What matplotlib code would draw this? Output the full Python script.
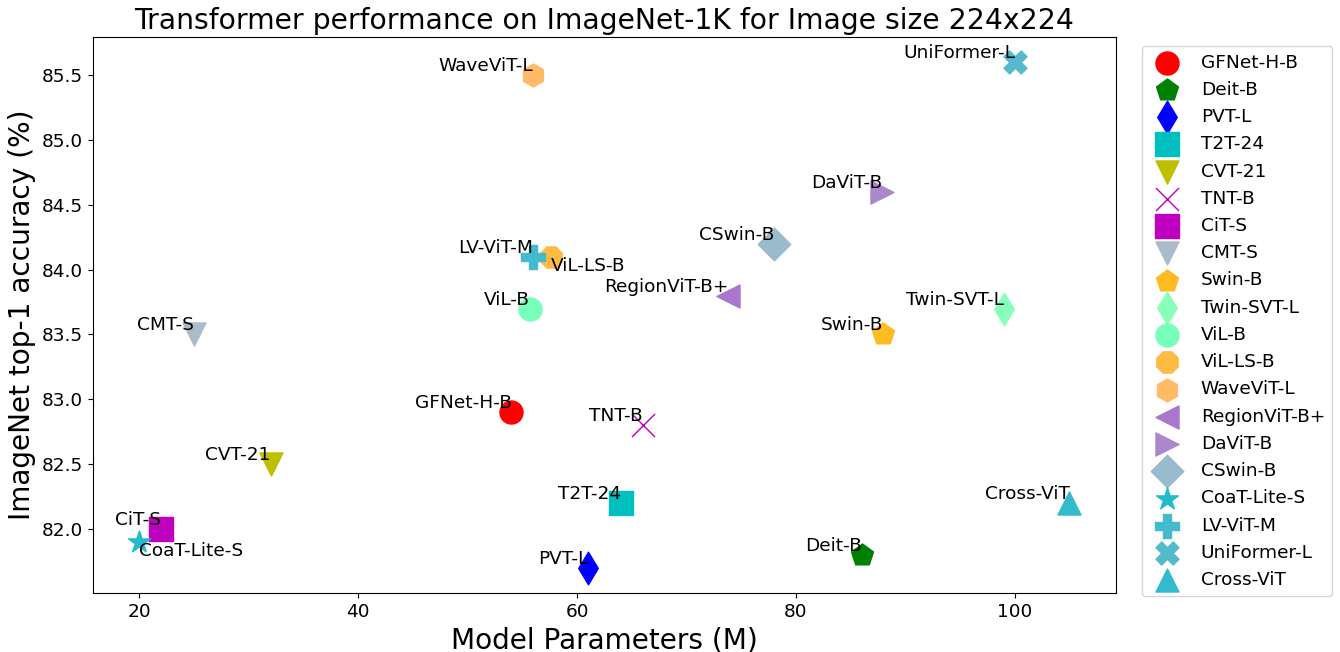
import matplotlib
matplotlib.use("Agg")
import matplotlib.pyplot as plt

# model names, params (M) and top-1 accuracy
models = ["GFNet-H-B", "Deit-B", "PVT-L", "T2T-24", "CVT-21", "TNT-B", "CiT-S",
          "CMT-S", "Swin-B", "Twin-SVT-L", "ViL-B", "ViL-LS-B", "WaveViT-L",
          "RegionViT-B+", "DaViT-B", "CSwin-B", "CoaT-Lite-S", "LV-ViT-M",
          "UniFormer-L", "Cross-ViT"]
params = [54, 86, 61, 64, 32, 66, 22, 25, 88, 99, 55.7, 57.6, 56, 73.8, 87.9,
          78, 20, 56, 100, 105]
acc = [82.9, 81.8, 81.7, 82.2, 82.5, 82.8, 82.0, 83.5, 83.5, 83.7, 83.7, 84.1,
       85.5, 83.8, 84.6, 84.2, 81.9, 84.1, 85.6, 82.2]

markers = ["o", "p", "d", "s", "v", "x", "s", "v", "p", "d", "o", "8", "h",
           "<", ">", "D", "*", "P", "X", "^"]
colors = ["r", "g", "b", "c", "y", "m", "m", "#aabbcc", "#ffbb22", "#88ffbb",
          "#77ffbb", "#ffbb44", "#ffbb66", "#aa77cc", "#aa88cc", "#99bbcc",
          "#22bbcc", "#44bbcc", "#55bbcc", "#33bbcc"]

# labels drawn to the lower right of the point instead of upper left
right_labels = ["ViL-LS-B", "CoaT-Lite-S"]

fs = 13.3

fig = plt.figure(figsize=(13.4, 6.52), dpi=100)
ax = fig.add_axes([0.0694, 0.0905, 0.7634, 0.8528])

for name, x, y, m, c in zip(models, params, acc, markers, colors):
    if m == "x":
        ax.scatter(x, y, marker=m, c=c, s=275, linewidths=1, label=name)
    else:
        ax.scatter(x, y, marker=m, c=c, s=275, label=name)
    if name in right_labels:
        ax.text(x, y, name, ha="left", va="top", fontsize=fs)
    else:
        ax.text(x, y, name, ha="right", va="bottom", fontsize=fs)

ax.set_title("Transformer performance on ImageNet-1K for Image size 224x224", fontsize=20.3)
ax.set_xlabel("Model Parameters (M)", fontsize=20.2)
ax.set_ylabel("ImageNet top-1 accuracy (%)", fontsize=20.2)
ax.tick_params(labelsize=fs)
ax.legend(loc="upper left", bbox_to_anchor=(1.016, 1.0), fontsize=fs,
          scatterpoints=1, labelspacing=0.5)

fig.savefig("out.png", dpi=100)
